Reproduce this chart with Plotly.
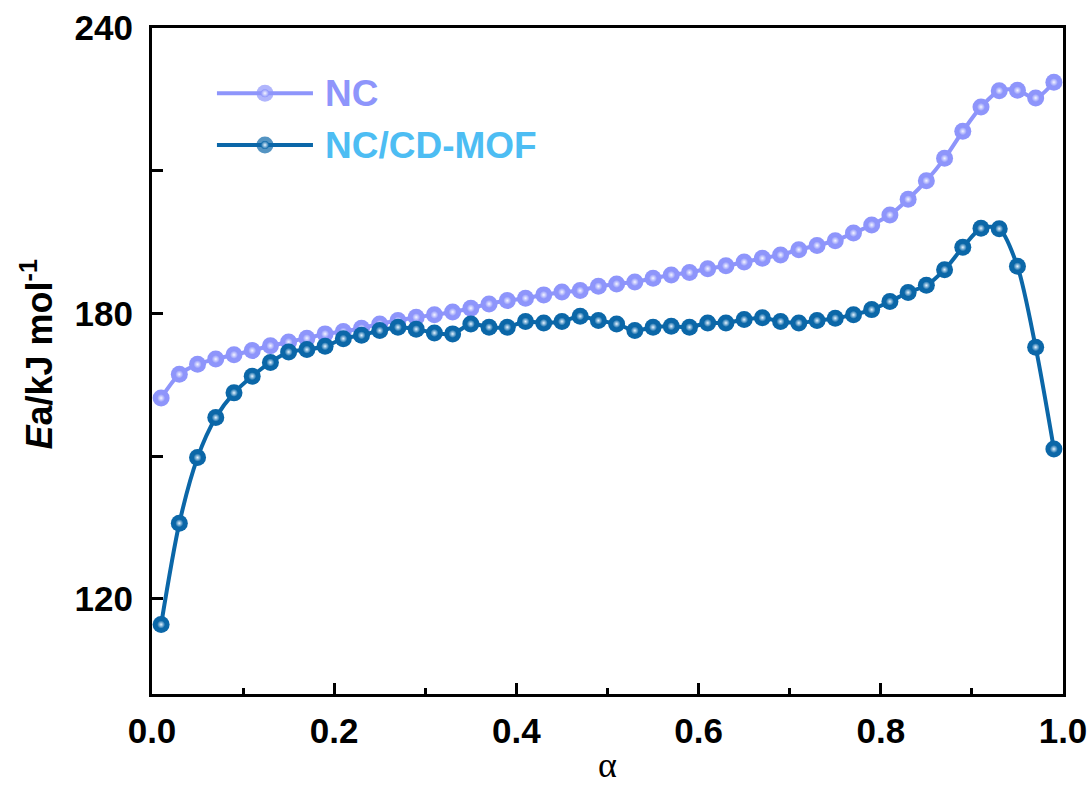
import plotly.graph_objects as go

alpha = [round(0.01 + 0.02 * i, 2) for i in range(50)]

ea_nc = [162.2, 167.2, 169.3, 170.4, 171.3, 172.2, 173.2, 174.0, 174.8, 175.7,
         176.2, 176.9, 177.8, 178.5, 179.2, 179.7, 180.3, 181.1, 182.0, 182.7,
         183.2, 183.9, 184.5, 184.8, 185.7, 186.2, 186.6, 187.4, 188.1, 188.6,
         189.4, 190.0, 190.8, 191.6, 192.3, 193.4, 194.3, 195.3, 196.9, 198.6,
         200.7, 204.0, 207.9, 212.6, 218.3, 223.4, 226.8, 226.9, 225.3, 228.6]

ea_mof = [114.6, 135.9, 149.7, 158.1, 163.3, 166.8, 169.7, 171.9, 172.4, 173.1,
          174.7, 175.4, 176.4, 177.1, 176.7, 175.9, 175.7, 177.8, 177.1, 177.1,
          178.3, 178.0, 178.3, 179.4, 178.5, 177.8, 176.4, 177.1, 177.3, 177.1,
          178.0, 178.0, 178.7, 179.1, 178.3, 178.0, 178.5, 179.0, 179.7, 180.8,
          182.5, 184.4, 185.9, 189.2, 193.9, 197.9, 197.8, 189.9, 172.9, 151.5]

series_names = ["NC", "NC/CD-MOF"]
line_colors = ["#8E95FB", "#0B67A8"]
highlight_colors = ["#F4F5FF", "#E6F4FF"]
legend_text_colors = ["#8E95FB", "#4DBDF3"]

fig = go.Figure()

for name, ys, lc, hc in zip(series_names, [ea_nc, ea_mof], line_colors, highlight_colors):
    fig.add_trace(go.Scatter(
        x=alpha, y=ys, name=name, mode="lines+markers",
        line=dict(color=lc, width=4, shape="spline", smoothing=0.8),
        marker=dict(size=17, color=lc, line=dict(width=0)),
        showlegend=False,
    ))
    fig.add_trace(go.Scatter(
        x=alpha, y=ys, mode="markers", hoverinfo="skip",
        marker=dict(size=8, color=lc, line=dict(width=0),
                    gradient=dict(type="radial", color=hc)),
        showlegend=False,
    ))

# custom legend (on an overlay axis in [0,1] units)
leg_y = [0.902, 0.8243]
for name, ly, lc, hc, tc in zip(series_names, leg_y, line_colors, highlight_colors, legend_text_colors):
    fig.add_trace(go.Scatter(
        x=[0.0713, 0.124, 0.1767], y=[ly, ly, ly], xaxis="x2", yaxis="y2",
        mode="lines+markers",
        line=dict(color=lc, width=4),
        marker=dict(size=[0, 17, 0], color=lc, line=dict(width=0)),
        showlegend=False, hoverinfo="skip",
    ))
    fig.add_trace(go.Scatter(
        x=[0.124], y=[ly], xaxis="x2", yaxis="y2", mode="markers",
        marker=dict(size=8, color=lc, line=dict(width=0),
                    gradient=dict(type="radial", color=hc)),
        showlegend=False, hoverinfo="skip",
    ))
    fig.add_annotation(
        x=0.188, y=ly, xref="paper", yref="paper", xanchor="left", yanchor="middle",
        text="<b>%s</b>" % name, showarrow=False,
        font=dict(family="Liberation Sans, Arial", size=37, color=tc),
    )

# axis titles
fig.add_annotation(
    x=-0.126, y=0.51, xref="paper", yref="paper", xanchor="center", yanchor="middle",
    textangle=-90, showarrow=False,
    text="<b><i>E</i>a/kJ mol<sup>-1</sup></b>",
    font=dict(family="Liberation Sans, Arial", size=36, color="black"),
)
fig.add_annotation(
    x=0.5, y=-0.14, xref="paper", yref="paper", xanchor="center", yanchor="bottom",
    showarrow=False, text="α",
    font=dict(family="'Liberation Serif', 'Times New Roman', serif", size=36, color="black"),
)

axis_font = dict(family="Liberation Sans, Arial", size=35, color="black", weight=700)

fig.update_layout(
    width=1091, height=789,
    margin=dict(l=152, r=28, t=28, b=95, autoexpand=False),
    paper_bgcolor="white", plot_bgcolor="white",
    xaxis=dict(
        range=[0, 1], dtick=0.2, tick0=0, tickformat=".1f",
        ticks="inside", ticklen=11, tickwidth=3, tickcolor="black",
        minor=dict(dtick=0.1, ticks="inside", ticklen=6, tickwidth=3, tickcolor="black"),
        showline=True, linewidth=3, linecolor="black", mirror=True,
        showgrid=False, zeroline=False, automargin=False,
        tickfont=axis_font, ticklabelstandoff=4,
    ),
    yaxis=dict(
        range=[100, 240], tickvals=[120, 180, 240],
        ticks="inside", ticklen=11, tickwidth=3, tickcolor="black",
        minor=dict(tickvals=[150, 210], ticks="inside", ticklen=11, tickwidth=3, tickcolor="black"),
        showline=True, linewidth=3, linecolor="black", mirror=True,
        showgrid=False, zeroline=False, automargin=False,
        tickfont=axis_font, ticklabelstandoff=9,
    ),
    xaxis2=dict(range=[0, 1], overlaying="x", visible=False, fixedrange=True),
    yaxis2=dict(range=[0, 1], overlaying="y", visible=False, fixedrange=True),
)

fig.write_html(
    "out.html",
    config={"displayModeBar": False},
    post_script="document.body.style.margin='0';document.body.style.padding='0';document.body.style.overflow='hidden';",
)
